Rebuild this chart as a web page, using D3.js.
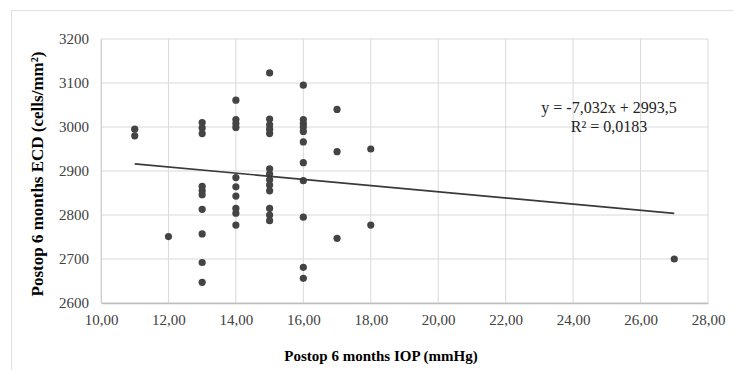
<!DOCTYPE html>
<html>
<head>
<meta charset="utf-8">
<script src="https://cdn.jsdelivr.net/npm/d3@7"></script>
<style>
  body { margin: 0; background: #fff; }
  text { font-family: "Liberation Serif", "Times New Roman", serif; }
</style>
</head>
<body>
<script>
var width = 733
var height = 370

// data: IOP (x) and ECD (y)
var iop = [11, 11,
  12,
  13, 13, 13, 13, 13, 13, 13, 13, 13, 13,
  14, 14, 14, 14, 14, 14, 14, 14, 14, 14,
  15, 15, 15, 15, 15, 15, 15, 15, 15, 15, 15, 15, 15,
  16, 16, 16, 16, 16, 16, 16, 16, 16, 16, 16,
  17, 17, 17,
  18, 18,
  27];
var ecd = [2995, 2980,
  2751,
  3010, 2998, 2985, 2865, 2855, 2846, 2813, 2757, 2692, 2647,
  3061, 3017, 3008, 2999, 2885, 2864, 2843, 2815, 2804, 2777,
  3123, 3018, 3005, 2995, 2985, 2905, 2893, 2880, 2868, 2855, 2815, 2800, 2787,
  3095, 3017, 3008, 3000, 2990, 2966, 2919, 2878, 2795, 2681, 2656,
  3040, 2944, 2747,
  2950, 2777,
  2700];
var xTicks = [10, 12, 14, 16, 18, 20, 22, 24, 26, 28];
var yTicks = [2600, 2700, 2800, 2900, 3000, 3100, 3200];
var slope = -7.032, intercept = 2993.5;
var trendX = [11, 27];

var svg = d3.select("body").append("svg")
    .attr("width", width)
    .attr("height", height)

// outer chart border
svg.append("rect")
    .attr("x", 11.5)
    .attr("y", 10.5)
    .attr("width", 760)
    .attr("height", 400)
    .attr("fill", "none")
    .attr("stroke", "#e2e2e2")

var plotLeft = 101, plotRight = 708, plotTop = 39, plotBottom = 303;

var x = d3.scaleLinear().domain([10, 28]).range([plotLeft, plotRight])
var y = d3.scaleLinear().domain([2600, 3200]).range([plotBottom, plotTop])

// gridlines
svg.append("g").selectAll("line").data(xTicks).join("line")
    .attr("x1", d => x(d)).attr("x2", d => x(d))
    .attr("y1", plotTop).attr("y2", plotBottom)
    .attr("stroke", "#d9d9d9")
svg.append("g").selectAll("line").data(yTicks).join("line")
    .attr("x1", plotLeft).attr("x2", plotRight)
    .attr("y1", d => y(d)).attr("y2", d => y(d))
    .attr("stroke", "#d9d9d9")

// axes
var fmt = d => d.toFixed(2).replace(".", ",")
var xAxis = svg.append("g")
    .attr("transform", "translate(0," + plotBottom + ")")
    .call(d3.axisBottom(x).tickValues(xTicks).tickFormat(fmt).tickSize(0).tickPadding(11))
var yAxis = svg.append("g")
    .attr("transform", "translate(" + plotLeft + ",0)")
    .call(d3.axisLeft(y).tickValues(yTicks).tickFormat(d3.format("d")).tickSize(0).tickPadding(12))
xAxis.select(".domain").attr("stroke", "#bfbfbf").attr("stroke-width", 1.5)
yAxis.select(".domain").attr("stroke", "#d0d0d0")
svg.selectAll(".tick text")
    .style("font-family", "'Liberation Serif', serif")
    .style("font-size", "15px")
    .attr("fill", "#404040")

// points
svg.append("g").selectAll("circle").data(iop).join("circle")
    .attr("cx", d => x(d))
    .attr("cy", (d, i) => y(ecd[i]))
    .attr("r", 3.6)
    .attr("fill", "#444")

// trendline
svg.append("line")
    .attr("x1", x(trendX[0])).attr("y1", y(slope * trendX[0] + intercept))
    .attr("x2", x(trendX[1])).attr("y2", y(slope * trendX[1] + intercept))
    .attr("stroke", "#3a3a3a")
    .attr("stroke-width", 1.6)

// equation
svg.append("text")
    .attr("x", 609).attr("y", 113)
    .attr("text-anchor", "middle")
    .style("font-size", "16px")
    .attr("fill", "#222")
    .text("y = -7,032x + 2993,5")
svg.append("text")
    .attr("x", 609).attr("y", 132)
    .attr("text-anchor", "middle")
    .style("font-size", "16px")
    .attr("fill", "#222")
    .text("R² = 0,0183")

// axis titles
svg.append("text")
    .attr("x", 381).attr("y", 361)
    .attr("text-anchor", "middle")
    .style("font-size", "15px")
    .style("font-weight", "bold")
    .text("Postop 6 months IOP (mmHg)")
svg.append("text")
    .attr("transform", "translate(43," + 174 + ") rotate(-90)")
    .attr("text-anchor", "middle")
    .style("font-size", "17px")
    .style("font-weight", "bold")
    .text("Postop 6 months ECD (cells/mm²)")
</script>
</body>
</html>
